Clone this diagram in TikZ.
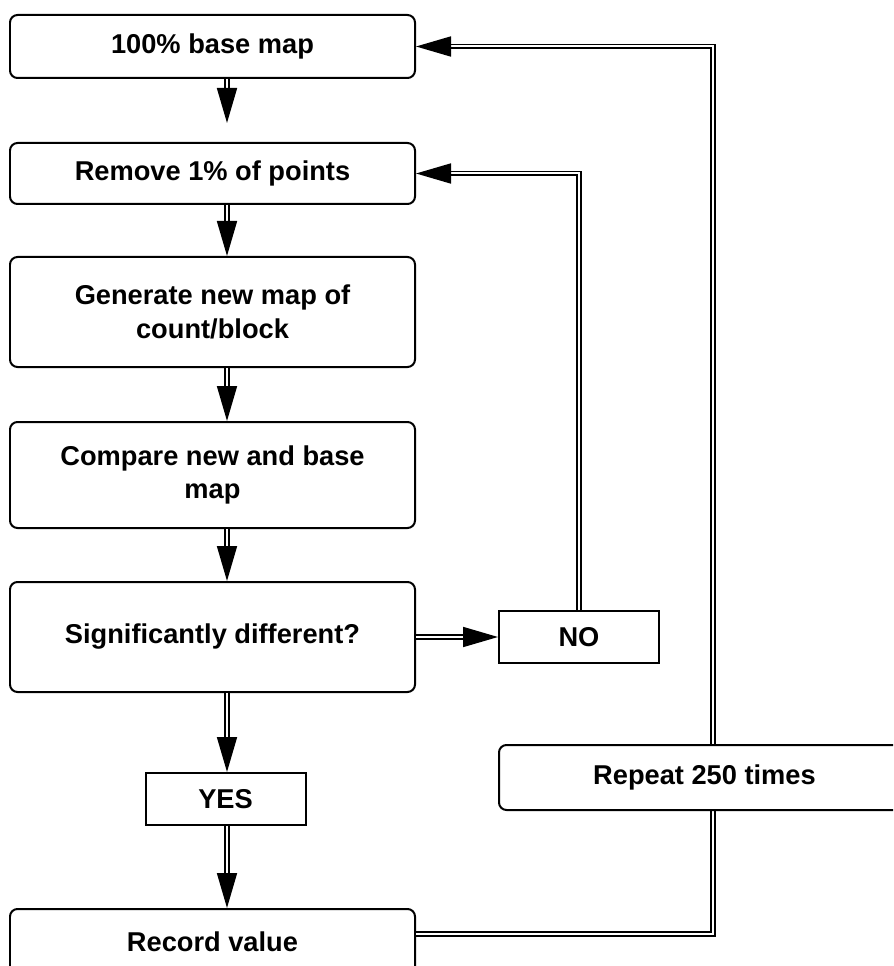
\documentclass[tikz,border=0pt]{standalone}
\usepackage{fontspec}
\setmainfont{Liberation Sans}
\usetikzlibrary{positioning,calc,arrows.meta}

\begin{document}
\begin{tikzpicture}[node distance=1cm,
    every node/.style={font=\bfseries\fontsize{15.5}{19}\selectfont, align=center},
    stage/.style={draw, line width=0.04cm, rounded corners=0.15cm, minimum width=8.1cm},
    answer/.style={draw, line width=0.04cm, minimum width=3.2cm, minimum height=1.04cm},
    flow/.style={double, double distance=0.04cm, line width=0.035cm, -{Triangle[length=0.7cm,width=0.4cm]}}]
    \useasboundingbox (0,0) rectangle (17.86,-19.32);
    \clip (0,0) rectangle (17.86,-19.32);
    \coordinate (axis) at (4.54,0);
    \coordinate (loopx) at (14.26,0);

    \node [stage, minimum height=1.26cm] (base) at (4.25,-0.93) {100\% base map};
    \node [stage, minimum height=1.22cm, below=1.26cm of base] (remove) {Remove 1\% of points};
    \node [stage, minimum height=2.2cm, below=1.02cm of remove] (generate) {Generate new map of\\count/block};
    \node [stage, minimum height=2.12cm, below=1.06cm of generate] (compare) {Compare new and base\\map};
    \node [stage, minimum height=2.2cm, below=1.04cm of compare] (signif) {Significantly different?};
    \node [answer, below=1.58cm of signif, xshift=0.26cm] (yes) {YES};
    \node [stage, minimum height=1.3cm, below=1.64cm of yes, xshift=-0.26cm] (record) {Record value};
    \node [answer, right=1.64cm of signif] (no) {NO};

    \draw [flow, shorten >=0.38cm] (base.south -| axis) -- (remove.north -| axis);
    \draw [flow] (remove.south -| axis) -- (generate.north -| axis);
    \draw [flow] (generate.south -| axis) -- (compare.north -| axis);
    \draw [flow] (compare.south -| axis) -- (signif.north -| axis);
    \draw [flow] (signif.south -| axis) -- (yes.north -| axis);
    \draw [flow] (yes.south -| axis) -- (record.north -| axis);
    \draw [flow] (signif.east) -- (no.west);
    \draw [flow] (no.north) |- (remove.east);
    \draw [flow] ([yshift=0.15cm]record.east) -| (loopx |- base.east) -- (base.east);

    \node [stage, fill=white, minimum width=8.22cm, minimum height=1.3cm, below=1.6cm of no.south west, anchor=north west] (repeat) {Repeat 250 times};
\end{tikzpicture}
\end{document}
